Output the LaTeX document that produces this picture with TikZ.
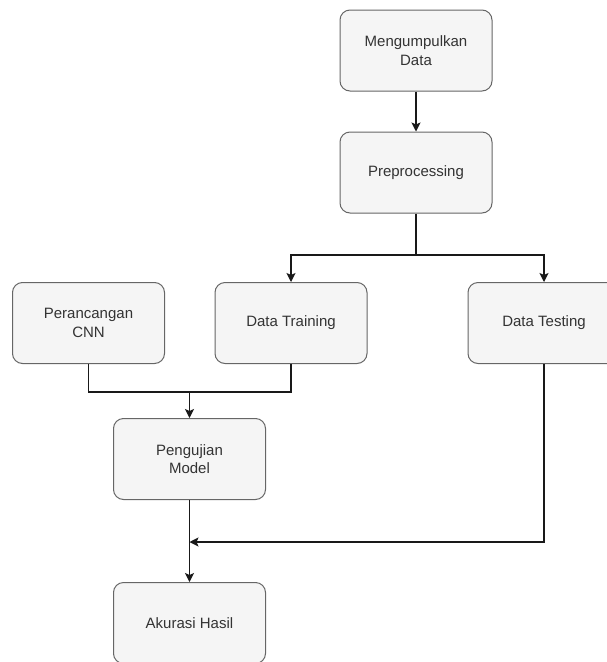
\documentclass[tikz,border=0pt]{standalone}
\usepackage{fontspec}
\setmainfont{Liberation Sans}
\usetikzlibrary{arrows.meta}
\definecolor{boxfill}{HTML}{F5F5F5}
\definecolor{boxline}{HTML}{666666}
\definecolor{txt}{HTML}{333333}
\begin{document}
\begin{tikzpicture}[x=1pt,y=-1pt,
  box/.style={draw=boxline,fill=boxfill,line width=1pt,rounded corners=10pt,
    minimum width=152pt,minimum height=81pt,align=center,text=txt,
    font=\fontsize{15}{18.5}\selectfont,inner sep=0pt},
  conn/.style={draw=black!90,line width=1.2pt},
  arr/.style={conn,-{Stealth[length=9pt,width=9pt,inset=2pt]}}]
\useasboundingbox (0,0) rectangle (607,662);
\clip (0,0) rectangle (607,662);
\node[box] (m) at (416,50.5) {Mengumpulkan\\Data};
\node[box] (p) at (416,172.5) {Preprocessing};
\node[box] (cnn) at (88.5,323) {Perancangan\\CNN};
\node[box] (tr) at (291,323) {Data Training};
\node[box] (te) at (544,323) {Data Testing};
\node[box] (pm) at (189.5,459) {Pengujian\\Model};
\node[box] (ak) at (189.5,623) {Akurasi Hasil};
\coordinate (j1) at (416,255);
\coordinate (j2) at (189.5,392);
\coordinate (j3) at (189.5,542);
\draw[arr] (m) -- (p);
\draw[conn] (p.south) -- (j1);
\draw[arr] (j1) -| (tr.north);
\draw[arr] (j1) -| (te.north);
\draw[conn] (cnn.south) |- (j2);
\draw[conn] (tr.south) |- (j2);
\draw[arr] (j2) -- (pm.north);
\draw[arr] (te.south) |- (j3);
\draw[arr] (pm.south) -- (ak.north);
\end{tikzpicture}
\end{document}
